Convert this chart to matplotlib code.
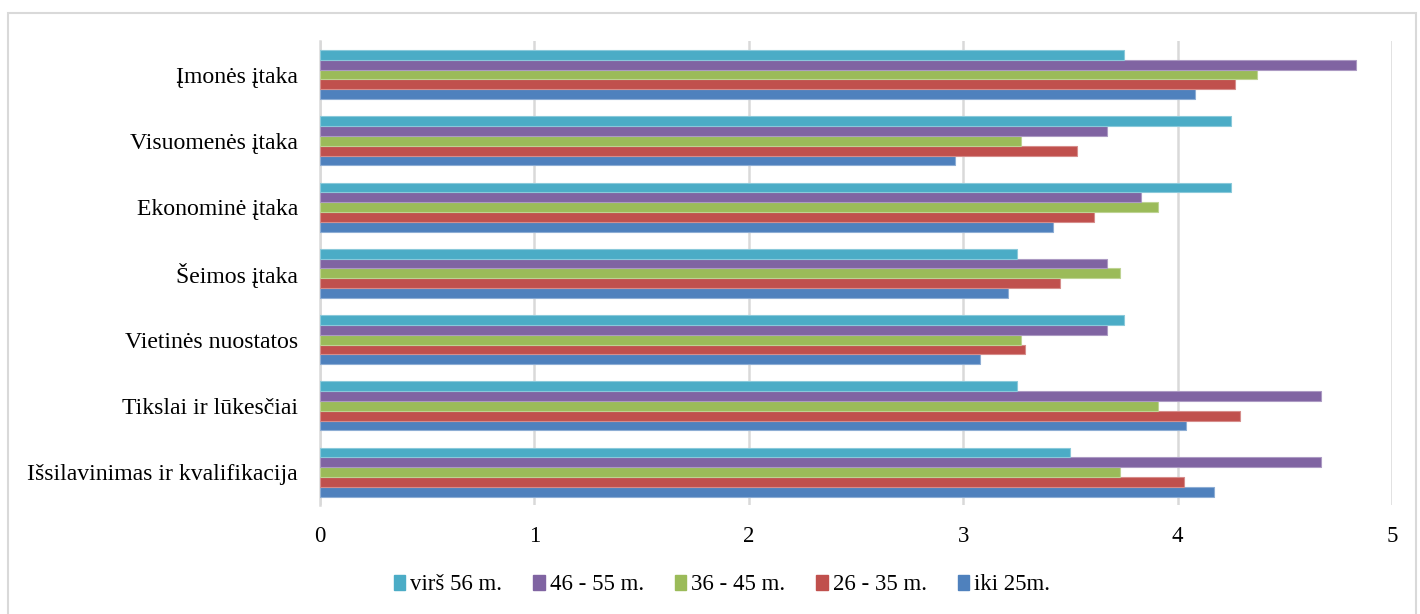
import matplotlib
matplotlib.use("Agg")
import matplotlib.pyplot as plt
import matplotlib.colors as mcolors
from matplotlib.patches import Rectangle, Patch
import numpy as np

plt.rcParams['font.family'] = ['Liberation Serif', 'DejaVu Serif']

# Factor categories, listed bottom to top
categories = [
    "Išsilavinimas ir kvalifikacija",
    "Tikslai ir lūkesčiai",
    "Vietinės nuostatos",
    "Šeimos įtaka",
    "Ekonominė įtaka",
    "Visuomenės įtaka",
    "Įmonės įtaka",
]

# Mean scores per age group (same order as categories)
iki_25 = [4.17, 4.04, 3.08, 3.21, 3.42, 2.96, 4.08]
m26_35 = [4.03, 4.29, 3.29, 3.45, 3.61, 3.53, 4.27]
m36_45 = [3.73, 3.91, 3.27, 3.73, 3.91, 3.27, 4.37]
m46_55 = [4.67, 4.67, 3.67, 3.67, 3.83, 3.67, 4.83]
virs_56 = [3.50, 3.25, 3.75, 3.25, 4.25, 4.25, 3.75]

series_names = ["iki 25m.", "26 - 35 m.", "36 - 45 m.", "46 - 55 m.", "virš 56 m."]
series_values = [iki_25, m26_35, m36_45, m46_55, virs_56]
series_colors = ["#4F81BD", "#C0504D", "#9BBB59", "#8064A2", "#4BACC6"]

x_ticks = [0, 1, 2, 3, 4, 5]


def lighter(c, amt=0.35):
    r, g, b = mcolors.to_rgb(c)
    return (r + (1 - r) * amt, g + (1 - g) * amt, b + (1 - b) * amt)


fig = plt.figure(figsize=(14.2, 6.14), dpi=100)
W, H = 1420, 614
ax_left, ax_right, ax_top, ax_bottom = 320, 1392, 41.4, 505.3
ax = fig.add_axes([ax_left / W, 1 - ax_bottom / H,
                   (ax_right - ax_left) / W, (ax_bottom - ax_top) / H])

# Chart frame
fig.patches.append(Rectangle((8 / W, -0.01), (1416 - 8) / W, 1.01 - 13 / H,
                             transform=fig.transFigure, fill=False,
                             edgecolor="#d9d9d9", linewidth=1.5, zorder=0))

y = np.arange(len(categories))
n = len(series_names)
bar_h = 0.148
for i, (name, vals, col) in enumerate(zip(series_names, series_values, series_colors)):
    offs = (i - (n - 1) / 2) * bar_h
    ax.barh(y + offs, vals, height=bar_h, color=col, edgecolor=lighter(col),
            linewidth=0.8, label=name, zorder=3)

ax.set_xlim(0, 5)
ax.set_ylim(-0.5, len(categories) - 0.5)
ax.set_xticks(x_ticks)
ax.set_xticklabels([str(t) for t in x_ticks], fontsize=16.5)
ax.set_yticks(y)
ax.set_yticklabels(categories, fontsize=17.1)
ax.tick_params(axis='both', length=0)
ax.tick_params(axis='x', pad=15)
ax.tick_params(axis='y', pad=16)

ax.grid(axis='x', color="#d9d9d9", linewidth=1.8, zorder=0)
ax.set_axisbelow(True)
for s in ["top", "right", "bottom"]:
    ax.spines[s].set_visible(False)
ax.spines["left"].set_color("#d9d9d9")
ax.spines["left"].set_linewidth(1.8)

handles = [Patch(facecolor=c, edgecolor=c) for c in reversed(series_colors)]
fig.legend(handles, list(reversed(series_names)), loc="center",
           bbox_to_anchor=(722 / W, 1 - 585 / H), ncol=5, frameon=False,
           fontsize=16.5, handlelength=0.5, handleheight=0.62,
           handletextpad=0.22, columnspacing=1.35, borderpad=0)

fig.savefig("out.png", dpi=100, facecolor="white")
